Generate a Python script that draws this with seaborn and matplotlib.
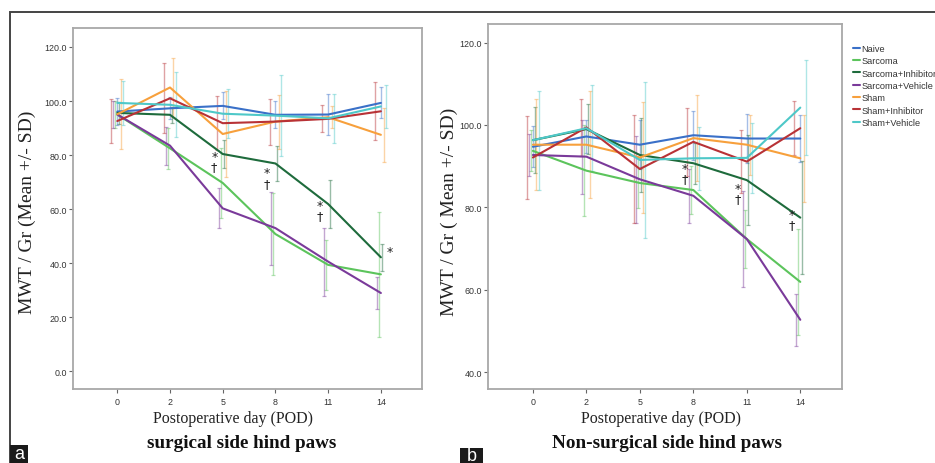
import matplotlib
matplotlib.use("Agg")
import matplotlib.pyplot as plt
import seaborn as sns
import pandas as pd
import numpy as np
from matplotlib.patches import Rectangle

# ---------------- data ----------------
days = ["0", "2", "5", "8", "11", "14"]
groups = ["Naive", "Sarcoma", "Sarcoma+Inhibitor", "Sarcoma+Vehicle",
          "Sham", "Sham+Inhibitor", "Sham+Vehicle"]

# panel a: surgical side hind paws (means)
a_naive       = [96.1, 97.3, 98.2, 94.9, 95.0, 99.3]
a_sarcoma     = [95.0, 82.5, 69.7, 50.8, 39.4, 35.9]
a_sarc_inh    = [95.6, 94.9, 80.4, 76.9, 61.9, 42.2]
a_sarc_veh    = [95.0, 83.5, 60.3, 53.0, 40.6, 29.0]
a_sham        = [95.1, 105.0, 87.8, 92.4, 94.0, 87.5]
a_sham_inh    = [92.6, 101.0, 91.8, 92.4, 93.4, 96.2]
a_sham_veh    = [99.3, 98.6, 95.3, 94.6, 93.6, 98.0]
# panel a: SD
a_naive_sd    = [5.0, 4.0, 5.0, 5.0, 7.5, 5.7]
a_sarcoma_sd  = [5.0, 7.5, 13.0, 15.0, 9.2, 23.0]
a_sarc_inh_sd = [4.0, 3.0, 5.0, 6.6, 9.0, 5.0]
a_sarc_veh_sd = [5.0, 7.0, 7.4, 13.5, 12.6, 6.0]
a_sham_sd     = [13.0, 11.0, 16.0, 10.0, 4.0, 10.0]
a_sham_inh_sd = [8.0, 13.0, 10.0, 8.5, 5.0, 10.7]
a_sham_veh_sd = [8.0, 12.0, 9.0, 15.0, 9.0, 8.0]

# panel b: non-surgical side hind paws (means)
b_naive       = [94.7, 97.2, 95.2, 97.5, 96.7, 96.7]
b_sarcoma     = [93.7, 88.9, 85.9, 84.2, 72.3, 61.9]
b_sarc_inh    = [96.3, 99.0, 92.7, 90.7, 86.6, 77.5]
b_sarc_veh    = [92.7, 92.3, 86.8, 82.8, 72.3, 52.7]
b_sham        = [95.2, 95.2, 92.1, 96.8, 95.2, 91.9]
b_sham_inh    = [92.1, 99.4, 89.3, 95.9, 91.1, 99.2]
b_sham_veh    = [96.3, 99.2, 91.5, 91.9, 92.0, 104.2]
# panel b: SD
b_naive_sd    = [5.0, 4.0, 6.0, 6.0, 6.0, 5.6]
b_sarcoma_sd  = [5.0, 11.0, 6.0, 5.8, 7.0, 12.8]
b_sarc_inh_sd = [8.0, 6.0, 9.0, 5.0, 11.0, 13.7]
b_sarc_veh_sd = [5.0, 9.0, 10.6, 6.6, 11.6, 6.3]
b_sham_sd     = [11.0, 13.0, 13.4, 10.5, 7.3, 10.5]
b_sham_inh_sd = [10.0, 7.0, 13.0, 8.3, 7.6, 6.5]
b_sham_veh_sd = [12.0, 10.5, 19.0, 7.6, 8.5, 11.5]

# significance marks: (day index, label text)
a_marks = [(2, "*\n\u2020"), (3, "*\n\u2020"), (4, "*\n\u2020"), (5, "*")]
b_marks = [(3, "*\n\u2020"), (4, "*\n\u2020"), (5, "*\n\u2020")]
a_mark_y = [77.5, 71.5, 59.5, 44.3]
b_mark_y = [88.3, 83.3, 77.0]

a_means = [a_naive, a_sarcoma, a_sarc_inh, a_sarc_veh, a_sham, a_sham_inh, a_sham_veh]
a_sds = [a_naive_sd, a_sarcoma_sd, a_sarc_inh_sd, a_sarc_veh_sd, a_sham_sd, a_sham_inh_sd, a_sham_veh_sd]
b_means = [b_naive, b_sarcoma, b_sarc_inh, b_sarc_veh, b_sham, b_sham_inh, b_sham_veh]
b_sds = [b_naive_sd, b_sarcoma_sd, b_sarc_inh_sd, b_sarc_veh_sd, b_sham_sd, b_sham_inh_sd, b_sham_veh_sd]

palette = {
    "Naive": "#3a70c8",
    "Sarcoma": "#5cc45c",
    "Sarcoma+Inhibitor": "#1e6b3c",
    "Sarcoma+Vehicle": "#7a3a9a",
    "Sham": "#f7a03c",
    "Sham+Inhibitor": "#b83236",
    "Sham+Vehicle": "#4ec8c8",
}
# horizontal dodge of the error bars (in category units)
dodge = {"Sham+Inhibitor": -0.11, "Sarcoma+Vehicle": -0.075, "Sarcoma": -0.04,
         "Naive": 0.0, "Sarcoma+Inhibitor": 0.03, "Sham": 0.065, "Sham+Vehicle": 0.105}


def make_df(means, sds):
    rows = []
    for g, m, s in zip(groups, means, sds):
        for i, d in enumerate(days):
            rows.append({"pos": i, "day": d, "group": g, "mwt": m[i], "sd": s[i]})
    return pd.DataFrame(rows)


dfa = make_df(a_means, a_sds)
dfb = make_df(b_means, b_sds)

# ---------------- style ----------------
sns.set_style("white")
plt.rcParams["font.family"] = ["Liberation Sans", "DejaVu Sans"]

W, H = 935, 464
fig = plt.figure(figsize=(W / 100, H / 100), dpi=100)


def fx(px):
    return px / W


def fy(py):
    return 1 - py / H


axA = fig.add_axes([fx(73), fy(390), fx(422) - fx(73), fy(29) - fy(390)])
axB = fig.add_axes([fx(488), fy(390), fx(842) - fx(488), fy(25) - fy(390)])


def draw_panel(ax, df, ylim, yticks, marks, mark_y, legend):
    for g in groups:
        sub = df[df.group == g]
        ax.errorbar(sub["pos"] + dodge[g], sub["mwt"], yerr=sub["sd"], fmt="none",
                    ecolor=palette[g], alpha=0.45, elinewidth=1.0, capsize=1.3,
                    capthick=0.9, zorder=1)
    sns.lineplot(data=df, x="pos", y="mwt", hue="group", hue_order=groups,
                 palette=palette, ax=ax, legend=legend, linewidth=1.5,
                 errorbar=None, zorder=3)
    ax.set_xlim(-0.84, 5.78)
    ax.set_ylim(*ylim)
    ax.set_xticks(range(len(days)))
    ax.set_xticklabels(days)
    ax.set_yticks(yticks)
    ax.set_yticklabels([f"{v:.1f}" for v in yticks])
    ax.set_xlabel("")
    ax.set_ylabel("")
    for sp in ax.spines.values():
        sp.set_visible(True)
        sp.set_color("#a8a8a8")
        sp.set_linewidth(1.3)
    ax.tick_params(axis="both", direction="out", length=3, width=0.8,
                   color="#666666", labelsize=6.4, pad=1.5, labelcolor="#333333")
    ax.tick_params(axis="x", bottom=True, top=False, pad=2.5)
    ax.tick_params(axis="y", left=True, right=False)
    for (i, txt), yv in zip(marks, mark_y):
        xo = -0.16 if "\n" in txt else 0.17
        ax.text(i + xo, yv, txt, ha="center", va="center", fontsize=9,
                family="DejaVu Sans", color="#222222", linespacing=0.72, zorder=4)


draw_panel(axA, dfa, (-6.5, 127), [0, 20, 40, 60, 80, 100, 120], a_marks, a_mark_y, False)
draw_panel(axB, dfb, (35.9, 124.5), [40, 60, 80, 100, 120], b_marks, b_mark_y, True)

leg = axB.legend(loc="upper left", bbox_to_anchor=(fx(853), fy(45)),
                 bbox_transform=fig.transFigure, frameon=False, fontsize=6.6,
                 handlelength=0.8, handletextpad=0.15, labelspacing=0.36,
                 borderaxespad=0, borderpad=0)
for ln in leg.get_lines():
    ln.set_linewidth(1.5)
for t in leg.get_texts():
    t.set_color("#333333")

serif = ["Liberation Serif", "DejaVu Serif"]
fig.text(fx(27), fy(212), "MWT / Gr (Mean +/- SD)", rotation=90, ha="center",
         va="center", fontsize=14, family=serif, color="#222222")
fig.text(fx(449), fy(212), "MWT / Gr ( Mean +/- SD)", rotation=90, ha="center",
         va="center", fontsize=14, family=serif, color="#222222")
fig.text(fx(233), fy(419), "Postoperative day (POD)", ha="center", va="center",
         fontsize=11.5, family=serif, color="#222222")
fig.text(fx(661), fy(419), "Postoperative day (POD)", ha="center", va="center",
         fontsize=11.5, family=serif, color="#222222")
fig.text(fx(242), fy(444), "surgical side hind paws", ha="center", va="center",
         fontsize=13.8, family=serif, weight="bold", color="#111111")
fig.text(fx(667), fy(444), "Non-surgical side hind paws", ha="center", va="center",
         fontsize=13.8, family=serif, weight="bold", color="#111111")

# outer frame
fig.patches.append(Rectangle((fx(10), -0.1), 1.2, fy(13) + 0.1, transform=fig.transFigure,
                             fill=False, edgecolor="#444444", linewidth=1.4, zorder=0))
# panel letters
fig.patches.append(Rectangle((fx(10), 0), fx(28) - fx(10), fy(446), transform=fig.transFigure,
                             facecolor="#1a1a1a", edgecolor="none", zorder=5))
fig.text(fx(19), fy(455), "a", ha="center", va="center", fontsize=13, color="white", zorder=6)
fig.patches.append(Rectangle((fx(460), 0), fx(483) - fx(460), fy(449), transform=fig.transFigure,
                             facecolor="#1a1a1a", edgecolor="none", zorder=5))
fig.text(fx(471.5), fy(457), "b", ha="center", va="center", fontsize=13, color="white", zorder=6)

fig.savefig("out.png", dpi=100)
